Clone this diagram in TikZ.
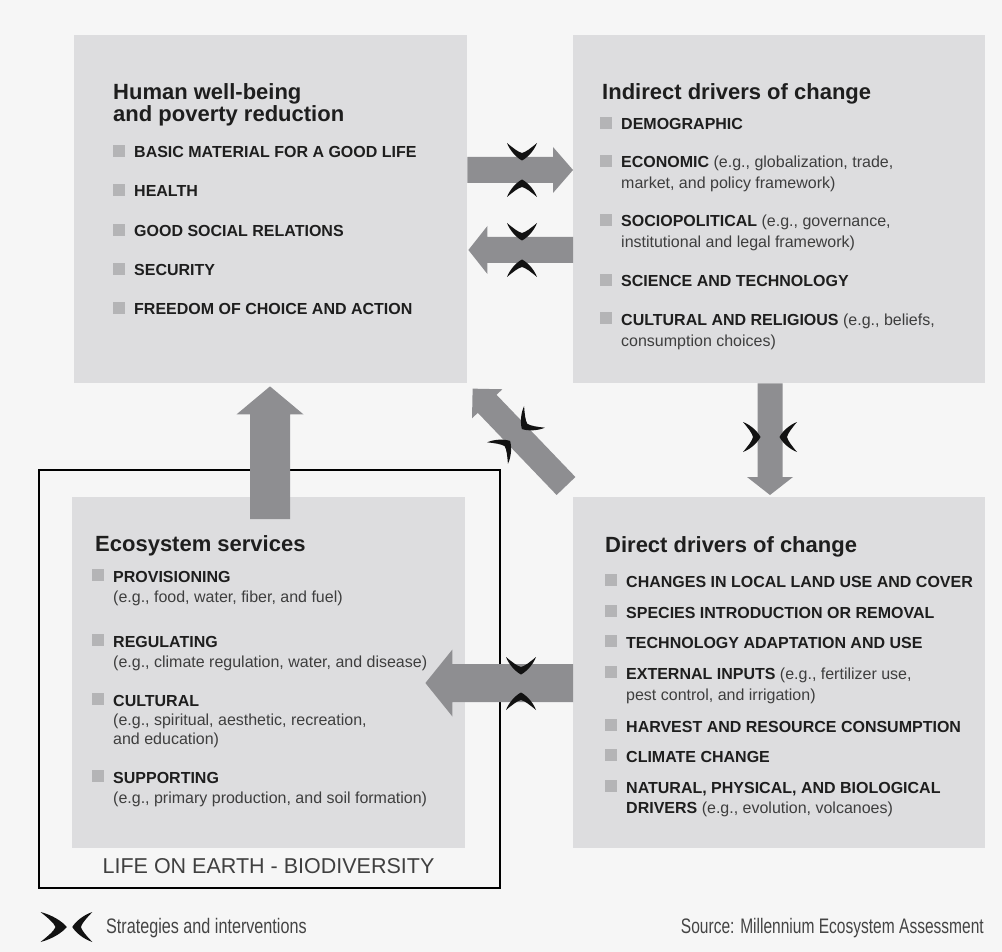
\documentclass[tikz,border=0pt]{standalone}
\usepackage{fontspec}
\setmainfont{Liberation Sans}
\usetikzlibrary{calc}
\definecolor{bgcol}{HTML}{F6F6F6}
\definecolor{boxcol}{HTML}{DDDDDF}
\definecolor{arrcol}{HTML}{8E8E91}
\definecolor{bulcol}{HTML}{B4B4B6}
\definecolor{txtdark}{HTML}{1E1E1E}
\definecolor{txtreg}{HTML}{3E3E3E}
\definecolor{legcol}{HTML}{444444}
\definecolor{pinchcol}{HTML}{121212}

\newcommand\blockarrow[5]{%
  \path let \p1=(#1), \p2=(#2) in \pgfextra{%
    \pgfmathsetmacro\baang{atan2(\y2-\y1,\x2-\x1)}%
    \pgfmathsetmacro\balen{veclen(\x2-\x1,\y2-\y1)}%
    \xdef\BAang{\baang}\xdef\BAlen{\balen}};
  \begin{scope}[shift={(#1)},rotate=\BAang]
    \fill[arrcol] (0,-#3) -- (\BAlen-#5,-#3) -- (\BAlen-#5,-#4) -- (\BAlen,0)
      -- (\BAlen-#5,#4) -- (\BAlen-#5,#3) -- (0,#3) -- cycle;
  \end{scope}}

\newcommand\bt[1]{\textbf{\color{txtdark}#1}}
\newcommand\bitm[4]{%
  \node[itm] (#1) at (#2,#3) {#4};
  \fill[bulcol] ($(#1.base west)+(-21,-1)$) rectangle ++(12,-12);}

\tikzset{
  box/.style={fill=boxcol, draw=none, anchor=north west, inner sep=0pt},
  ttl/.style={anchor=base west, inner sep=0pt, font=\fontsize{22}{26}\selectfont\bfseries, text=txtdark},
  itm/.style={anchor=base west, inner sep=0pt, font=\fontsize{16}{19}\selectfont, text=txtreg},
  legtxt/.style={inner sep=0pt, font=\fontsize{21}{25}\selectfont, text=legcol},
  pinch/.pic={\fill[pinchcol] (-16,-15) .. controls (-8,-12) and (-1,-5) .. (1.5,0)
     .. controls (-1,5) and (-8,12) .. (-16,15)
     .. controls (-11,9) and (-7,4) .. (-6,0)
     .. controls (-7,-4) and (-11,-9) .. (-16,-15) -- cycle;}
}

\begin{document}
\begin{tikzpicture}[x=1pt,y=-1pt]
\fill[bgcol] (0,0) rectangle (1002,952);
\useasboundingbox (0,0) rectangle (1002,952);

% boxes
\node[box, minimum width=393pt, minimum height=348pt] (hw) at (74,35) {};
\node[box, minimum width=412pt, minimum height=348pt] (id) at (573,35) {};
\node[box, minimum width=393pt, minimum height=351pt] (es) at (72,497) {};
\node[box, minimum width=412pt, minimum height=351pt] (dd) at (573,497) {};
\node[draw=black, line width=2pt, anchor=north west, minimum width=461pt,
      minimum height=418pt, inner sep=0pt] (earth) at (38,469) {};

% arrow end points
\coordinate (a1s) at ($(hw.north east)+(0,135)$);
\coordinate (a1e) at ($(id.north west)+(0,135)$);
\coordinate (a2s) at ($(id.north west)+(0,215)$);
\coordinate (a2e) at ($(hw.north east)+(1,215)$);
\coordinate (a3s) at ($(id.south west)+(197,0)$);
\coordinate (a3e) at ($(dd.north west)+(197,-2)$);
\coordinate (a4s) at ($(dd.north west)+(-7,-11)$);
\coordinate (a4e) at ($(hw.south east)+(5,5)$);
\coordinate (a5s) at ($(es.north west)+(198,22)$);
\coordinate (a5e) at ($(hw.south west)+(196,3)$);
\coordinate (a6s) at ($(dd.north west)+(0,186)$);
\coordinate (a6e) at ($(es.north east)+(-40,186)$);

\blockarrow{a1s}{a1e}{13}{23}{20}
\blockarrow{a2s}{a2e}{13}{24}{19}
\blockarrow{a3s}{a3e}{12.5}{23}{18}
\blockarrow{a4s}{a4e}{13}{21}{21}
\blockarrow{a5s}{a5e}{20}{33.5}{28}
\blockarrow{a6s}{a6e}{19}{33.5}{27}

% strategies and interventions marks
\pic[rotate=-90] at (522,159) {pinch};
\pic[rotate=90] at (522,181) {pinch};
\pic[rotate=-90] at (522,239) {pinch};
\pic[rotate=90] at (522,261) {pinch};
\pic at (759,437) {pinch};
\pic[rotate=180] at (781,437) {pinch};
\pic[rotate=-90] at (521,673) {pinch};
\pic[rotate=90] at (521,694) {pinch};
\pic[rotate=224] at (523,428) {pinch};
\pic[rotate=44] at (509,442) {pinch};

% Human well-being
\node[ttl] (hwt1) at (113,100) {Human well-being};
\node[ttl] (hwt2) at (113,122) {and poverty reduction};
\bitm{hw1}{134}{158}{\bt{BASIC MATERIAL FOR A GOOD LIFE}}
\bitm{hw2}{134}{197}{\bt{HEALTH}}
\bitm{hw3}{134}{237}{\bt{GOOD SOCIAL RELATIONS}}
\bitm{hw4}{134}{276}{\bt{SECURITY}}
\bitm{hw5}{134}{315}{\bt{FREEDOM OF CHOICE AND ACTION}}

% Indirect drivers
\node[ttl] (idt) at (602,100) {Indirect drivers of change};
\bitm{id1}{621}{130}{\bt{DEMOGRAPHIC}}
\bitm{id2}{621}{168}{\bt{ECONOMIC} (e.g., globalization, trade,}
\node[itm] (id2b) at (621,189) {market, and policy framework)};
\bitm{id3}{621}{227}{\bt{SOCIOPOLITICAL} (e.g., governance,}
\node[itm] (id3b) at (621,248) {institutional and legal framework)};
\bitm{id4}{621}{287}{\bt{SCIENCE AND TECHNOLOGY}}
\bitm{id5}{621}{325}{\bt{CULTURAL AND RELIGIOUS} (e.g., beliefs,}
\node[itm] (id5b) at (621,346) {consumption choices)};

% Direct drivers
\node[ttl] (ddt) at (605,552) {Direct drivers of change};
\bitm{dd1}{626}{587}{\bt{CHANGES IN LOCAL LAND USE AND COVER}}
\bitm{dd2}{626}{618}{\bt{SPECIES INTRODUCTION OR REMOVAL}}
\bitm{dd3}{626}{648}{\bt{TECHNOLOGY ADAPTATION AND USE}}
\bitm{dd4}{626}{679}{\bt{EXTERNAL INPUTS} (e.g., fertilizer use,}
\node[itm] (dd4b) at (626,700) {pest control, and irrigation)};
\bitm{dd5}{626}{732}{\bt{HARVEST AND RESOURCE CONSUMPTION}}
\bitm{dd6}{626}{762}{\bt{CLIMATE CHANGE}}
\bitm{dd7}{626}{793}{\bt{NATURAL, PHYSICAL, AND BIOLOGICAL}}
\node[itm] (dd7b) at (626,813) {\bt{DRIVERS} (e.g., evolution, volcanoes)};

% Ecosystem services
\node[ttl] (est) at (95,551) {Ecosystem services};
\bitm{es1}{113}{582}{\bt{PROVISIONING}}
\node[itm] (es1b) at (113,602) {(e.g., food, water, fiber, and fuel)};
\bitm{es2}{113}{647}{\bt{REGULATING}}
\node[itm] (es2b) at (113,667) {(e.g., climate regulation, water, and disease)};
\bitm{es3}{113}{706}{\bt{CULTURAL}}
\node[itm] (es3b) at (113,725) {(e.g., spiritual, aesthetic, recreation,};
\node[itm] (es3c) at (113,744) {and education)};
\bitm{es4}{113}{783}{\bt{SUPPORTING}}
\node[itm] (es4b) at (113,803) {(e.g., primary production, and soil formation)};

\node[anchor=base, inner sep=0pt, font=\fontsize{21.5}{25}\selectfont, text=txtdark!85] (life) at (268.5,873) {LIFE ON EARTH - BIODIVERSITY};

% legend
\pic[xscale=1.5] at (64.5,927) {pinch};
\pic[xscale=-1.15] at (74,927) {pinch};
\node[legtxt, anchor=base west] (leg) at (106,933) {\scalebox{0.77}[1]{Strategies and interventions}};
\node[legtxt, anchor=base east] (src) at (984,933) {\scalebox{0.74}[1]{Source: Millennium Ecosystem Assessment}};
\end{tikzpicture}
\end{document}
